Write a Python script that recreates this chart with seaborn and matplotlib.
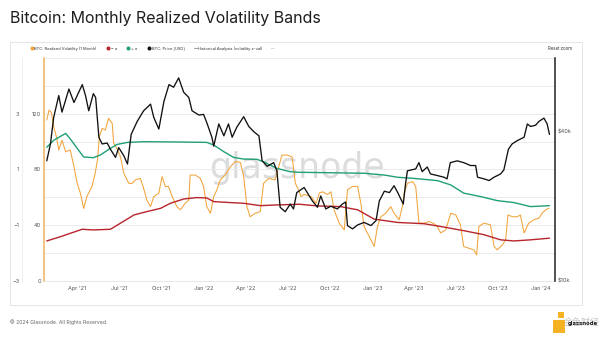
import matplotlib
matplotlib.use("Agg")
import matplotlib.pyplot as plt
import matplotlib.dates as mdates
from matplotlib.lines import Line2D
from matplotlib.patches import Rectangle
import pandas as pd
import seaborn as sns

sns.set_theme(style="white")
plt.rcParams["font.family"] = ["Inter", "DejaVu Sans"]

# ---- data -----------------------------------------------------------------
price_dates = [
    "2021-01-25", "2021-02-02", "2021-02-09", "2021-02-20", "2021-02-27", "2021-03-14", "2021-03-25", "2021-04-12", "2021-04-19", "2021-04-26",
    "2021-05-06", "2021-05-11", "2021-05-18", "2021-05-25", "2021-06-05", "2021-06-12", "2021-06-23", "2021-06-30", "2021-07-11", "2021-07-19",
    "2021-07-27", "2021-08-09", "2021-08-23", "2021-09-07", "2021-09-14", "2021-09-25", "2021-10-06", "2021-10-17", "2021-10-27", "2021-11-07",
    "2021-11-18", "2021-11-29", "2021-12-06", "2021-12-21", "2021-12-31", "2022-01-08", "2022-01-18", "2022-01-22", "2022-02-02", "2022-02-13",
    "2022-02-23", "2022-03-03", "2022-03-13", "2022-03-28", "2022-04-08", "2022-04-19", "2022-04-30", "2022-05-07", "2022-05-18", "2022-06-01",
    "2022-06-08", "2022-06-15", "2022-06-26", "2022-07-07", "2022-07-14", "2022-07-21", "2022-08-06", "2022-08-24", "2022-09-04", "2022-09-11",
    "2022-09-22", "2022-10-03", "2022-10-17", "2022-10-28", "2022-11-04", "2022-11-08", "2022-11-19", "2022-11-30", "2022-12-14", "2022-12-29",
    "2023-01-09", "2023-01-16", "2023-01-27", "2023-02-07", "2023-02-17", "2023-02-25", "2023-03-09", "2023-03-14", "2023-03-18", "2023-04-05",
    "2023-04-12", "2023-04-19", "2023-04-30", "2023-05-07", "2023-05-22", "2023-06-05", "2023-06-12", "2023-06-19", "2023-07-04", "2023-07-18",
    "2023-08-02", "2023-08-13", "2023-08-17", "2023-08-31", "2023-09-11", "2023-09-22", "2023-10-06", "2023-10-13", "2023-10-23", "2023-10-31",
    "2023-11-11", "2023-11-26", "2023-12-03", "2023-12-10", "2023-12-21", "2023-12-28", "2024-01-08", "2024-01-15", "2024-01-20",
]
price_usd = [
    30500, 35700, 45700, 56000, 48000, 59500, 52500, 62000, 56000, 48600,
    57000, 55000, 38000, 35700, 36000, 34000, 31500, 34500, 32000, 29600,
    39000, 44000, 48600, 51700, 45700, 41000, 53000, 62000, 60500, 66000,
    57700, 55000, 48600, 46700, 47000, 43000, 38000, 35000, 43000, 38500,
    43000, 38000, 41700, 46000, 42000, 40000, 38500, 30500, 29000, 30000,
    27800, 19800, 19000, 20400, 19500, 22700, 23800, 21000, 19800, 22000,
    19500, 20000, 19500, 20400, 20800, 16700, 16200, 16800, 17200, 16700,
    17500, 21000, 23000, 22700, 24200, 22700, 20400, 24700, 27800, 28300,
    30000, 27600, 28800, 27000, 26600, 26200, 25800, 30000, 30500, 30000,
    29200, 29200, 26200, 25800, 25400, 26200, 27000, 28000, 34000, 35700,
    36800, 38000, 43000, 42000, 42500, 44000, 45400, 43000, 39000,
]

vol_dates = [
    "2021-01-25", "2021-01-30", "2021-02-04", "2021-02-09", "2021-02-15", "2021-02-20", "2021-02-27", "2021-03-07", "2021-03-17", "2021-03-25",
    "2021-04-01", "2021-04-08", "2021-04-15", "2021-04-22", "2021-05-03", "2021-05-10", "2021-05-15", "2021-05-19", "2021-05-25", "2021-06-01",
    "2021-06-08", "2021-06-16", "2021-06-19", "2021-06-26", "2021-07-04", "2021-07-11", "2021-07-22", "2021-07-29", "2021-08-05", "2021-08-16",
    "2021-08-23", "2021-08-30", "2021-09-07", "2021-09-14", "2021-09-25", "2021-10-02", "2021-10-09", "2021-10-16", "2021-10-24", "2021-11-03",
    "2021-11-11", "2021-11-21", "2021-11-29", "2021-12-02", "2021-12-13", "2021-12-24", "2021-12-31", "2022-01-07", "2022-01-15", "2022-01-22",
    "2022-01-29", "2022-02-05", "2022-02-16", "2022-02-27", "2022-03-10", "2022-03-21", "2022-03-28", "2022-04-04", "2022-04-11", "2022-04-22",
    "2022-05-03", "2022-05-10", "2022-05-21", "2022-06-04", "2022-06-12", "2022-06-19", "2022-06-30", "2022-07-11", "2022-07-18", "2022-07-25",
    "2022-07-30", "2022-08-06", "2022-08-21", "2022-09-01", "2022-09-08", "2022-09-15", "2022-09-26", "2022-10-03", "2022-10-10", "2022-10-21",
    "2022-11-01", "2022-11-08", "2022-11-19", "2022-11-30", "2022-12-07", "2022-12-14", "2022-12-25", "2023-01-05", "2023-01-12", "2023-01-19",
    "2023-01-30", "2023-02-10", "2023-02-17", "2023-02-28", "2023-03-07", "2023-03-11", "2023-03-18", "2023-03-29", "2023-04-05", "2023-04-12",
    "2023-04-23", "2023-05-04", "2023-05-15", "2023-05-22", "2023-05-29", "2023-06-09", "2023-06-20", "2023-07-01", "2023-07-11", "2023-07-18",
    "2023-07-29", "2023-08-09", "2023-08-15", "2023-08-20", "2023-08-31", "2023-09-14", "2023-09-22", "2023-09-29", "2023-10-10", "2023-10-17",
    "2023-10-22", "2023-11-01", "2023-11-11", "2023-11-18", "2023-11-26", "2023-12-06", "2023-12-17", "2023-12-28", "2024-01-04", "2024-01-12",
    "2024-01-19",
]
realized_vol = [
    115.6, 122.8, 121.0, 110.8, 103.6, 94.0, 101.0, 92.8, 94.0, 82.0,
    70.0, 62.9, 52.0, 60.5, 67.8, 77.3, 87.0, 103.6, 109.6, 108.4,
    116.8, 113.0, 99.0, 95.2, 89.0, 77.3, 70.0, 70.0, 72.5, 73.6,
    66.5, 58.0, 53.3, 60.5, 63.0, 74.9, 67.8, 67.8, 60.5, 53.3,
    51.0, 55.7, 58.0, 76.0, 76.0, 73.6, 67.8, 53.3, 48.5, 60.5,
    65.4, 72.5, 76.0, 82.0, 85.8, 85.0, 74.9, 53.3, 46.0, 48.5,
    49.7, 70.0, 73.6, 72.5, 82.0, 90.4, 90.4, 89.0, 70.0, 65.4,
    60.5, 62.0, 60.5, 55.7, 63.0, 64.0, 62.0, 64.0, 51.0, 41.4,
    36.6, 65.4, 67.8, 67.8, 55.7, 39.0, 31.9, 24.6, 39.0, 46.0,
    48.5, 53.3, 48.5, 43.8, 53.3, 63.0, 70.0, 71.3, 67.8, 41.4,
    41.4, 42.6, 41.0, 39.0, 34.3, 36.6, 48.5, 47.3, 40.2, 24.6,
    23.4, 22.2, 18.6, 39.0, 41.4, 40.2, 24.6, 22.2, 25.8, 29.4,
    47.3, 46.0, 46.0, 47.3, 34.3, 41.4, 43.8, 45.0, 48.5, 51.0,
    52.1,
]

upper_dates = [
    "2021-01-25", "2021-02-09", "2021-03-07", "2021-03-17", "2021-04-01", "2021-04-15", "2021-05-06", "2021-05-21", "2021-06-12", "2021-06-26",
    "2021-07-19", "2021-08-23", "2021-11-03", "2022-01-07", "2022-01-22", "2022-02-13", "2022-03-06", "2022-03-28", "2022-04-26", "2022-05-10",
    "2022-06-08", "2022-07-07", "2022-07-27", "2022-12-14", "2023-01-27", "2023-02-25", "2023-04-01", "2023-05-22", "2023-06-20", "2023-07-18",
    "2023-08-24", "2023-09-29", "2023-11-04", "2023-12-10", "2024-01-20",
]
upper_band = [
    96.0, 101.0, 106.0, 102.0, 95.2, 89.0, 88.5, 90.4, 95.2, 98.0,
    99.5, 100.0, 99.8, 99.5, 97.6, 92.8, 88.7, 87.5, 87.3, 85.6,
    80.8, 78.4, 78.0, 77.3, 76.0, 74.4, 73.6, 72.0, 68.9, 63.0,
    60.5, 57.6, 56.2, 53.3, 54.0,
]

lower_dates = [
    "2021-01-25", "2021-02-24", "2021-03-17", "2021-04-12", "2021-05-06", "2021-06-12", "2021-07-04", "2021-08-02", "2021-08-30", "2021-09-29",
    "2021-10-20", "2021-11-18", "2021-12-17", "2022-01-07", "2022-01-22", "2022-02-27", "2022-03-28", "2022-05-03", "2022-06-08", "2022-07-27",
    "2022-09-04", "2022-10-24", "2022-11-30", "2023-01-05", "2023-02-25", "2023-04-23", "2023-05-29", "2023-07-18", "2023-08-31", "2023-10-06",
    "2023-11-04", "2023-12-10", "2024-01-20",
]
lower_band = [
    28.6, 31.7, 34.1, 37.0, 36.5, 37.0, 41.4, 47.3, 49.7, 52.1,
    55.7, 58.8, 59.8, 59.5, 56.9, 56.2, 55.7, 54.0, 54.5, 55.0,
    53.8, 53.3, 51.0, 44.3, 41.9, 41.0, 39.0, 36.0, 33.1, 29.4,
    28.6, 29.4, 30.6,
]

vol_ticks = [0, 40, 80, 120]
z_ticks = [-3, -1, 1, 3]
price_ticks = [10000, 40000]
price_tick_labels = ["$10k", "$40k"]

legend_labels = ["BTC: Realized Volatility (1 Month)", "\u2212 \u03c3", "+ \u03c3",
                 "BTC: Price [USD]", "Historical Analysis (volatility z-val)"]

# ---- colours --------------------------------------------------------------
C_VOL = "#f3a33a"
C_LOW = "#b8242b"
C_UP = "#1f9f78"
C_PRICE = "#111111"
C_GRID = "#e8e8e8"
C_TXT = "#555555"

# ---- figure / axes --------------------------------------------------------
W, H = 600, 342
fig = plt.figure(figsize=(W / 100, H / 100), dpi=100)
fig.patch.set_facecolor("white")


def fx(px):
    return px / W


def fy(py):
    return 1 - py / H


left, right, top, bottom = 44, 555, 58.3, 280.7
ax = fig.add_axes([fx(left), fy(bottom), (right - left) / W, (bottom - top) / H])
ax.patch.set_visible(False)
axp = ax.twinx()
axp.patch.set_visible(False)
axz = ax.twinx()
axz.patch.set_visible(False)

df_vol = pd.DataFrame({"date": pd.to_datetime(vol_dates), "vol": realized_vol})
df_up = pd.DataFrame({"date": pd.to_datetime(upper_dates), "vol": upper_band})
df_low = pd.DataFrame({"date": pd.to_datetime(lower_dates), "vol": lower_band})
df_price = pd.DataFrame({"date": pd.to_datetime(price_dates), "price": price_usd})

# centre watermark, behind every line
fig.text(fx(297), fy(168), "glassnode", fontsize=25, color="#dcdcdc",
         ha="center", va="center", family="DejaVu Sans", zorder=-5)

sns.lineplot(data=df_vol, x="date", y="vol", ax=ax, color=C_VOL, lw=0.75, zorder=3)
sns.lineplot(data=df_low, x="date", y="vol", ax=ax, color=C_LOW, lw=1.0, zorder=4)
sns.lineplot(data=df_up, x="date", y="vol", ax=ax, color=C_UP, lw=1.0, zorder=4)
sns.lineplot(data=df_price, x="date", y="price", ax=axp, color=C_PRICE, lw=0.95)

# x axis
ax.set_xlim(pd.Timestamp("2021-01-19"), pd.Timestamp("2024-02-01"))
ax.xaxis.set_major_locator(mdates.MonthLocator(bymonth=[1, 4, 7, 10]))
ax.xaxis.set_major_formatter(mdates.DateFormatter("%b '%y"))
ax.tick_params(axis="x", length=0, pad=4, labelsize=4, labelcolor=C_TXT)
ax.set_xlabel("")

# volatility axis (left, orange line)
ax.set_ylim(0, 160)
ax.set_yticks(vol_ticks)
ax.set_yticks([20, 60, 100, 140, 160], minor=True)
ax.yaxis.grid(True, which="both", color=C_GRID, lw=0.6)
ax.xaxis.grid(False)
ax.set_axisbelow(True)
ax.tick_params(axis="y", which="both", length=0, pad=2.2, labelsize=4, labelcolor=C_TXT)
ax.set_ylabel("")
for s in ["top", "right"]:
    ax.spines[s].set_visible(False)
ax.spines["left"].set_color("#f0b35a")
ax.spines["left"].set_linewidth(1.1)
ax.spines["bottom"].set_color("#e3e3e3")
ax.spines["bottom"].set_linewidth(0.6)

# price axis (right, black line, log)
axp.set_yscale("log")
axp.set_ylim(10000, 79200)
axp.set_yticks(price_ticks)
axp.set_yticklabels(price_tick_labels)
axp.yaxis.set_minor_locator(matplotlib.ticker.NullLocator())
axp.tick_params(axis="y", length=0, pad=2.2, labelsize=4, labelcolor=C_TXT)
axp.set_ylabel("")
for s in ["top", "left", "bottom"]:
    axp.spines[s].set_visible(False)
axp.spines["right"].set_color("#222222")
axp.spines["right"].set_linewidth(1.1)

# z-value axis (far left)
axz.set_ylim(-3, 5)
axz.set_yticks(z_ticks)
axz.yaxis.set_ticks_position("left")
axz.tick_params(axis="y", length=0, pad=2.2, labelsize=4, labelcolor=C_TXT)
for s in ["top", "right", "bottom"]:
    axz.spines[s].set_visible(False)
axz.spines["left"].set_position(("outward", 15.5))
axz.spines["left"].set_color("#ececf0")
axz.spines["left"].set_linewidth(0.6)

# ---- legend -----------------------------------------------------------------
handles = [
    Line2D([], [], ls="none", marker="o", ms=1.9, color=C_VOL),
    Line2D([], [], ls="none", marker="o", ms=1.9, color=C_LOW),
    Line2D([], [], ls="none", marker="o", ms=1.9, color=C_UP),
    Line2D([], [], ls="none", marker="o", ms=1.9, color=C_PRICE),
    Line2D([], [], ls="-", lw=0.6, color="#888888"),
]
fig.legend(handles, legend_labels, loc="center left", bbox_to_anchor=(fx(30), fy(48.5)),
           ncol=5, frameon=False, fontsize=2.9, handlelength=0.8, handletextpad=0.3,
           columnspacing=2.4, labelcolor="#333333", borderaxespad=0, borderpad=0)
fig.text(fx(273), fy(48.5), "\u00b7\u00b7\u00b7", fontsize=4, color="#666666", ha="center", va="center")
fig.text(fx(548), fy(48.5), "Reset zoom", fontsize=3.1, color="#333333", ha="left", va="center")

# panel frame
fig.add_artist(Rectangle((fx(10), fy(305)), (582 - 10) / W, (305 - 42) / H,
                         transform=fig.transFigure, fill=False, ec="#e2e2e2", lw=0.6))

# ---- title & footer -------------------------------------------------------
fig.text(fx(10), fy(19), "Bitcoin: Monthly Realized Volatility Bands", fontsize=11.5,
         color="#1e1e1e", ha="left", va="center")
fig.text(fx(10), fy(322), "\u00a9 2024 Glassnode. All Rights Reserved.", fontsize=3.7,
         color="#666666", ha="left", va="center")

# logo block bottom right
fig.add_artist(Rectangle((fx(553), fy(333)), 12 / W, 13 / H, transform=fig.transFigure,
                         fc="#f5b324", ec="none"))
fig.add_artist(Rectangle((fx(558), fy(318)), 6 / W, 6 / H, transform=fig.transFigure,
                         fc="#f5b324", ec="none"))
fig.text(fx(582), fy(322), "\u91d1\u8272\u8d22\u7ecf", fontsize=6.5, color="#c6c6c6",
         ha="center", va="center", family=["Noto Sans CJK SC", "DejaVu Sans"])
fig.text(fx(583), fy(323), "glassnode", fontsize=4.3, color="#111111", ha="center",
         va="center", fontweight="bold")

fig.savefig("out.png", dpi=100, facecolor="white")
